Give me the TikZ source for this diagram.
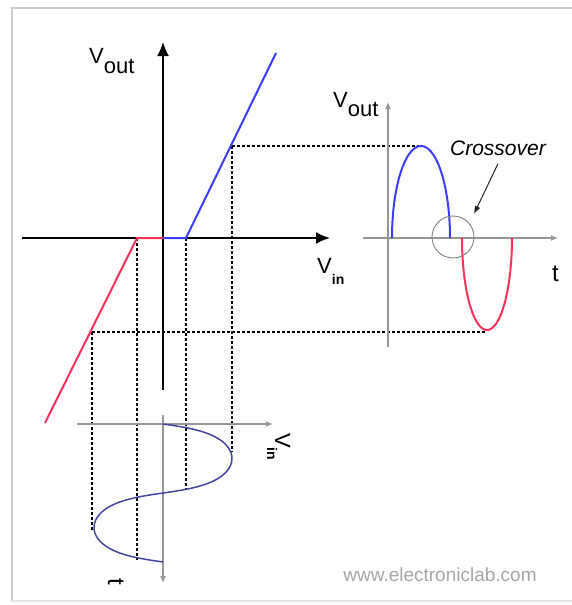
\documentclass[tikz,border=0pt]{standalone}
\usepackage{fontspec}
\setmainfont{Liberation Sans}
\usetikzlibrary{arrows.meta}
\definecolor{poscol}{RGB}{60,60,250}
\definecolor{negcol}{RGB}{250,50,90}
\definecolor{sinecol}{RGB}{70,70,160}
\definecolor{axgray}{RGB}{150,150,150}
\begin{document}
\begin{tikzpicture}[
    x=1pt, y=-1pt,
    axis/.style={line width=1.8pt, -{Latex[length=14pt, width=12pt]}},
    thinaxis/.style={axgray, line width=1.2pt, -{Latex[length=7pt, width=6pt]}},
    guide/.style={densely dashed, line width=1.2pt},
    posline/.style={poscol, line width=2pt},
    negline/.style={negcol, line width=2pt},
    lbl/.style={inner sep=0pt, font=\fontsize{22}{22}\selectfont}
]
\useasboundingbox (0,0) rectangle (571,605);
\draw[gray!40, line width=2pt] (12,601) -- (12,8) -- (575,8);
\draw[gray!20, line width=1.5pt] (12,601) -- (575,601);
\coordinate (o) at (163,238);
\coordinate (kn) at (137,238);
\coordinate (kp) at (186,238);
\coordinate (lo) at (45,423);
\coordinate (hi) at (276,53);
\coordinate (pk) at (232,146);
\coordinate (tr) at (92,332);
\draw[guide] (pk) -- (232,452);
\draw[guide] (pk) -- (422,146);
\draw[guide] (kp) -- (186,490);
\draw[guide] (kn) -- (137,560);
\draw[guide] (tr) -- (92,530);
\draw[guide] (tr) -- (485,332);
\draw[axis] (22,238) -- (330,238);
\draw[axis] (163,390) -- (163,42);
\draw[negline] (lo) -- (kn) -- (o);
\draw[posline] (o) -- (kp) -- (hi);
\node[lbl, anchor=base west] (vout) at (89,63) {V\raisebox{-10pt}{out}};
\node[lbl, anchor=base west] (vin) at (317,273) {V\raisebox{-11pt}{\fontsize{14}{14}\selectfont\bfseries in}};
\draw[thinaxis] (77,424) -- (273,424);
\draw[thinaxis] (163,415) -- (163,583);
\draw[sinecol, line width=1.5pt] plot[domain=0:360, samples=72, smooth] ({163+69*sin(\x)}, {424+0.38333*\x-6*sin(2*\x)});
\node[lbl, anchor=base west, rotate=-90] (vinb) at (275,433) {V\raisebox{-8pt}{\fontsize{14}{14}\selectfont\bfseries in}};
\node[lbl, anchor=base west, rotate=-90, font=\fontsize{24}{24}\selectfont] (tb) at (108,578) {t};
\draw[thinaxis] (388,347) -- (388,102);
\draw[thinaxis] (363,238) -- (558,238);
\draw[posline] plot[domain=0:180, samples=50, smooth] ({421-29*cos(\x)}, {238-92*sin(\x)});
\draw[negline] plot[domain=0:180, samples=50, smooth] ({487-25*cos(\x)}, {238+92*sin(\x)});
\draw[gray, line width=0.9pt] (453,237) circle[radius=21pt];
\node[lbl, anchor=base west] (voutr) at (333,107) {V\raisebox{-9pt}{out}};
\node[lbl, anchor=base west, font=\fontsize{24}{24}\selectfont] (tr2) at (552,281) {t};
\node[lbl, font=\fontsize{21}{21}\selectfont\itshape] (cross) at (498,148) {Crossover};
\coordinate (xpt) at (474,214);
\draw[-{Latex[length=8pt, width=6pt]}, gray!30!black, line width=1pt] ([yshift=-8pt]cross.south) -- (xpt);
\node[inner sep=0pt, text=gray!70, font=\fontsize{19}{19}\selectfont] (www) at (440,575) {www.electroniclab.com};
\end{tikzpicture}
\end{document}
